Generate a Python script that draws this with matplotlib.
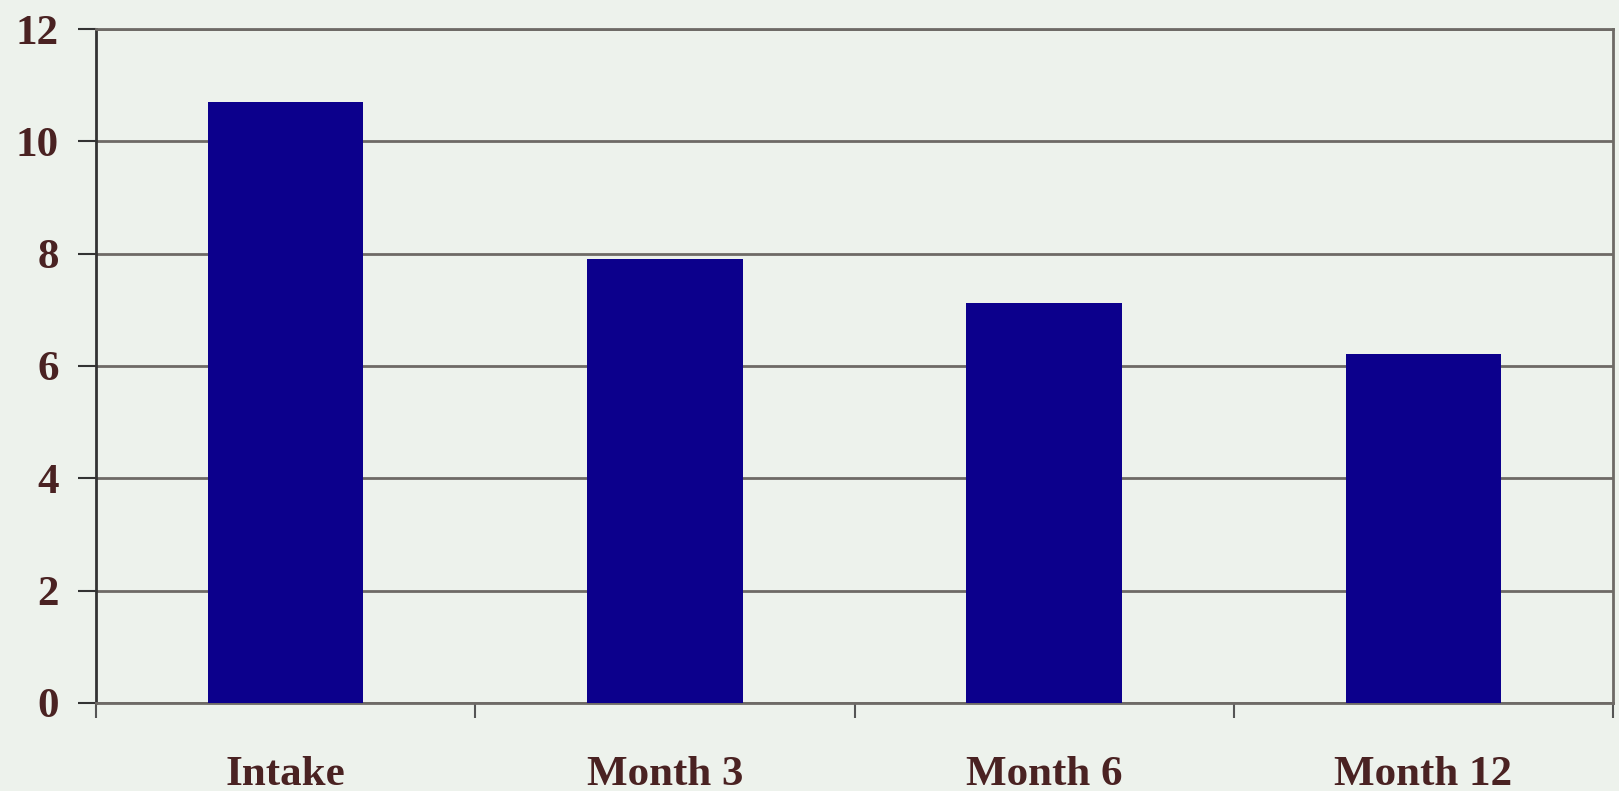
import numpy as np
import matplotlib
matplotlib.use("Agg")
import matplotlib.pyplot as plt

categories = ['Intake', 'Month 3', 'Month 6', 'Month 12']
values = [10.7, 7.9, 7.13, 6.21]
yticks = [0, 2, 4, 6, 8, 10, 12]

bg = '#edf2ec'
bar_color = '#0c008c'
text_color = '#4a2222'
grid_color = '#6e6a66'

plt.rcParams['font.family'] = ['Liberation Serif', 'DejaVu Serif']

fig = plt.figure(figsize=(16.19, 7.91), dpi=100, facecolor=bg)
ax = fig.add_axes([0.0593, 0.1113, 0.9370, 0.8520], facecolor=bg)

x = np.arange(len(categories))
ax.bar(x, values, width=0.41, color=bar_color, zorder=3)

ax.set_xlim(-0.5, len(categories) - 0.5)
ax.set_ylim(0, 12)

# horizontal grid lines
ax.set_yticks(yticks)
ax.yaxis.grid(True, color=grid_color, linewidth=2, zorder=0)
ax.set_axisbelow(True)

# y ticks
ax.tick_params(axis='y', length=13, width=1.5, color='#333333', pad=14,
               labelsize=31, labelcolor=text_color)
for lab in ax.get_yticklabels():
    lab.set_fontweight('bold')

# x labels at centres, tick marks between categories
ax.set_xticks(x)
ax.set_xticklabels(categories, fontsize=31, fontweight='bold', color=text_color)
ax.tick_params(axis='x', which='major', length=0, pad=38)
ax.set_xticks(np.arange(-0.5, len(categories), 1.0), minor=True)
ax.tick_params(axis='x', which='minor', length=11, width=1.5, color='#555555')

for side in ['top', 'right', 'bottom']:
    ax.spines[side].set_color(grid_color)
    ax.spines[side].set_linewidth(2)
ax.spines['left'].set_color('#333333')
ax.spines['left'].set_linewidth(2)

fig.savefig('out.png', dpi=100, facecolor=bg)
plt.close(fig)
